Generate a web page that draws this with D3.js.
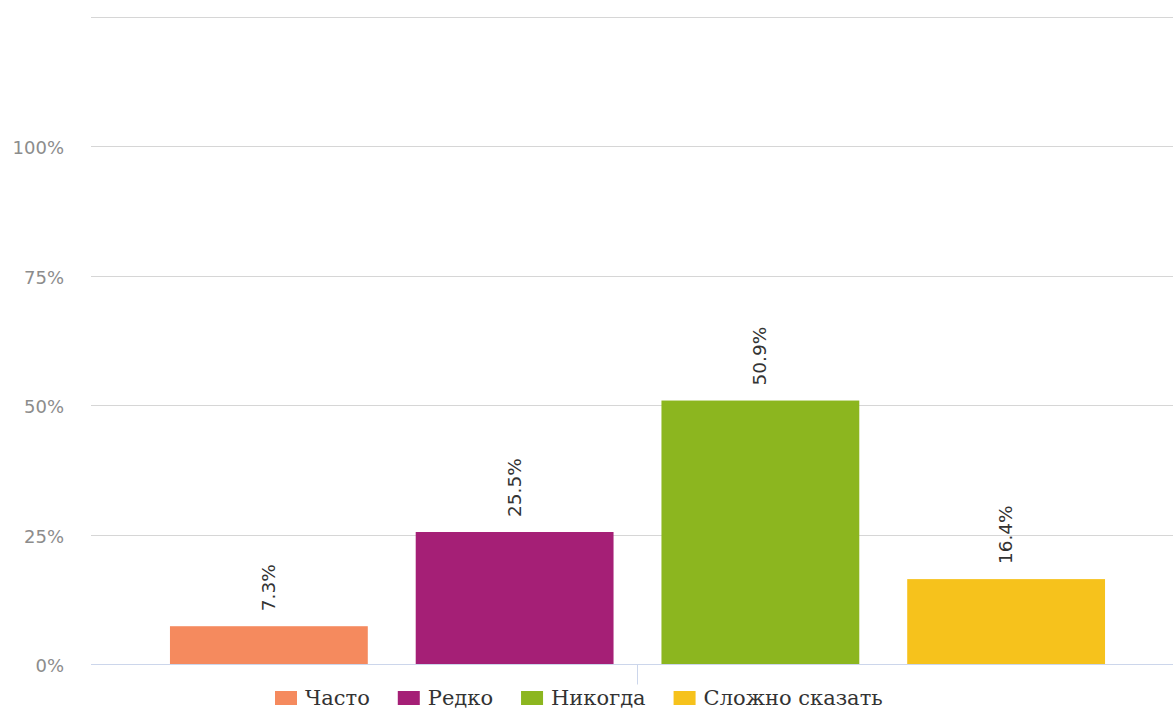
<!DOCTYPE html>
<html>
<head>
<meta charset="utf-8">
<script src="https://cdn.jsdelivr.net/npm/d3@7"></script>
<style>
  body { margin: 0; background: #fff; }
  svg { display: block; }
</style>
</head>
<body>
<div id="chart"></div>
<script>
var categories = ['Часто', 'Редко', 'Никогда', 'Сложно сказать']
var values = [7.3, 25.5, 50.9, 16.4]
var colors = ['#f58a5e', '#a51f76', '#8cb61f', '#f6c21c']
var yTicks = [0, 25, 50, 75, 100, 125]

var width = 1173, height = 711
var margin = {top: 17, right: 0, bottom: 47, left: 91}

var svg = d3.select('#chart').append('svg')
    .attr('width', width)
    .attr('height', height)

var y = d3.scaleLinear().domain([0, 125]).range([height - margin.bottom, margin.top])

var x = d3.scaleBand()
    .domain(categories)
    .range([146, 1129])
    .paddingInner(0.195)
    .paddingOuter(0.0975)

// grid
svg.append('g').selectAll('line')
    .data(yTicks.filter(function(d){ return d > 0 }))
  .enter().append('line')
    .attr('x1', margin.left)
    .attr('x2', width)
    .attr('y1', function(d){ return Math.round(y(d)) + 0.5 })
    .attr('y2', function(d){ return Math.round(y(d)) + 0.5 })
    .attr('stroke', '#d6d6d6')
    .attr('stroke-width', 1)

// y labels
svg.append('g').selectAll('text')
    .data(yTicks.filter(function(d){ return d <= 100 }))
  .enter().append('text')
    .attr('x', 64)
    .attr('y', function(d){ return y(d) + 8 })
    .attr('text-anchor', 'end')
    .attr('font-family', 'DejaVu Sans')
    .attr('font-size', 18)
    .attr('fill', '#8c8c8c')
    .text(function(d){ return d + '%' })

// bars
svg.append('g').selectAll('rect')
    .data(values)
  .enter().append('rect')
    .attr('x', function(d, i){ return x(categories[i]) })
    .attr('width', x.bandwidth())
    .attr('y', function(d){ return y(d) })
    .attr('height', function(d){ return y(0) - y(d) })
    .attr('fill', function(d, i){ return colors[i] })

// x axis line + single tick
var x0 = Math.round(y(0)) + 0.5
svg.append('line')
    .attr('x1', margin.left).attr('x2', width)
    .attr('y1', x0).attr('y2', x0)
    .attr('stroke', '#ccd6eb')
var mid = (x(categories[1]) + x.bandwidth() + x(categories[2])) / 2
svg.append('line')
    .attr('x1', Math.round(mid) - 0.5).attr('x2', Math.round(mid) - 0.5)
    .attr('y1', x0).attr('y2', x0 + 20)
    .attr('stroke', '#ccd6eb')

// data labels
svg.append('g').selectAll('text')
    .data(values)
  .enter().append('text')
    .attr('transform', function(d, i){
      var cx = x(categories[i]) + x.bandwidth() / 2 + 6
      return 'translate(' + cx + ',' + (y(d) - 15) + ') rotate(-90)'
    })
    .attr('text-anchor', 'start')
    .attr('font-family', 'DejaVu Sans')
    .attr('font-size', 18.5)
    .attr('fill', '#333')
    .text(function(d){ return d.toFixed(1) + '%' })

// legend
var legend = svg.append('g').attr('transform', 'translate(0,' + 698 + ')')
var lx = 275
categories.forEach(function(c, i) {
  var g = legend.append('g').attr('transform', 'translate(' + lx + ',0)')
  g.append('rect')
    .attr('x', 0).attr('y', -7)
    .attr('width', 22).attr('height', 14)
    .attr('fill', colors[i])
  var t = g.append('text')
    .attr('x', 30).attr('y', 7)
    .attr('font-family', 'DejaVu Serif')
    .attr('font-size', 21)
    .attr('fill', '#333')
    .text(c)
  lx += 30 + t.node().getComputedTextLength() + 28
})
</script>
</body>
</html>
